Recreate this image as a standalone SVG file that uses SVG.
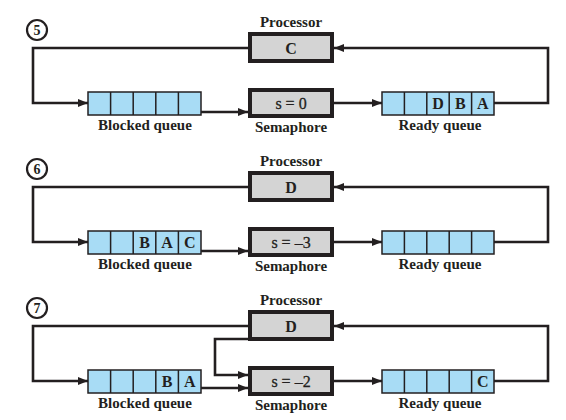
<svg xmlns="http://www.w3.org/2000/svg" width="566" height="420" viewBox="0 0 566 420">
<style>
.lbl{font-family:"Liberation Serif","Times New Roman",serif;font-weight:bold;font-size:15px;fill:#231f20;text-anchor:middle}
.val{font-family:"Liberation Serif","Times New Roman",serif;font-size:16px;fill:#231f20;text-anchor:middle;stroke:#231f20;stroke-width:0.3}
.cell{font-family:"Liberation Serif","Times New Roman",serif;font-weight:bold;font-size:16px;fill:#231f20;text-anchor:middle}
.num{font-family:"Liberation Serif","Times New Roman",serif;font-weight:bold;font-size:14px;fill:#231f20;text-anchor:middle}
.box{fill:#d4d4d4;stroke:#231f20;stroke-width:4}
.q{fill:#a8dcf5;stroke:#231f20;stroke-width:1.5}
.qd{stroke:#231f20;stroke-width:1.5}
.ring{fill:#fff;stroke:#231f20;stroke-width:2.2}
.ln{fill:none;stroke:#231f20;stroke-width:2.6}
</style>
<defs>
<marker id="ah" markerUnits="userSpaceOnUse" markerWidth="10" markerHeight="8" refX="10" refY="4" orient="auto">
<path d="M0,0 L10,4 L0,8 z" fill="#231f20"/>
</marker>
<g id="bq">
<rect class="q" x="88" y="92" width="113" height="23"/>
<path class="qd" d="M110.6 92V115M133.2 92V115M155.8 92V115M178.4 92V115"/>
</g>
<g id="rq">
<rect class="q" x="382" y="92" width="112" height="23"/>
<path class="qd" d="M404.4 92V115M426.8 92V115M449.2 92V115M471.6 92V115"/>
</g>
</defs>

<!-- Panel 5 -->
<g id="panel5">
<g id="step5"><circle class="ring" cx="37" cy="30" r="10"/><text class="num" x="37" y="35">5</text></g>
<g id="proc5"><text class="lbl" x="291" y="27">Processor</text><rect class="box" x="250" y="34" width="82" height="27"/><text class="cell" x="291" y="53.5">C</text></g>
<g id="sem5"><rect class="box" x="250" y="90" width="82" height="26"/><text class="val" x="291" y="108.5">s = 0</text><text class="lbl" x="291" y="132">Semaphore</text></g>
<g id="blocked5"><use href="#bq"/><text class="lbl" x="145" y="130">Blocked queue</text></g>
<g id="ready5"><use href="#rq"/><text class="cell" x="438" y="109">D</text><text class="cell" x="460.4" y="109">B</text><text class="cell" x="482.8" y="109">A</text><text class="lbl" x="440" y="130">Ready queue</text></g>
<g id="conn5">
<path class="ln" d="M248 48H33V103H88" marker-end="url(#ah)"/>
<path class="ln" d="M201 112H248" marker-end="url(#ah)"/>
<path class="ln" d="M334 103H382" marker-end="url(#ah)"/>
<path class="ln" d="M494 103H548V48H334" marker-end="url(#ah)"/>
</g>
</g>

<!-- Panel 6 -->
<g id="panel6" transform="translate(0,139)">
<g id="step6"><circle class="ring" cx="37" cy="30" r="10"/><text class="num" x="37" y="35">6</text></g>
<g id="proc6"><text class="lbl" x="291" y="27">Processor</text><rect class="box" x="250" y="34" width="82" height="27"/><text class="cell" x="291" y="53.5">D</text></g>
<g id="sem6"><rect class="box" x="250" y="90" width="82" height="26"/><text class="val" x="291" y="108.5">s = –3</text><text class="lbl" x="291" y="132">Semaphore</text></g>
<g id="blocked6"><use href="#bq"/><text class="cell" x="144.5" y="109">B</text><text class="cell" x="167.1" y="109">A</text><text class="cell" x="189.7" y="109">C</text><text class="lbl" x="145" y="130">Blocked queue</text></g>
<g id="ready6"><use href="#rq"/><text class="lbl" x="440" y="130">Ready queue</text></g>
<g id="conn6">
<path class="ln" d="M248 48H33V103H88" marker-end="url(#ah)"/>
<path class="ln" d="M201 112H248" marker-end="url(#ah)"/>
<path class="ln" d="M334 103H382" marker-end="url(#ah)"/>
<path class="ln" d="M494 103H548V48H334" marker-end="url(#ah)"/>
</g>
</g>

<!-- Panel 7 -->
<g id="panel7" transform="translate(0,278)">
<g id="step7"><circle class="ring" cx="37" cy="30" r="10"/><text class="num" x="37" y="35">7</text></g>
<g id="proc7"><text class="lbl" x="291" y="27">Processor</text><rect class="box" x="250" y="34" width="82" height="27"/><text class="cell" x="291" y="53.5">D</text></g>
<g id="sem7"><rect class="box" x="250" y="90" width="82" height="26"/><text class="val" x="291" y="108.5">s = –2</text><text class="lbl" x="291" y="132">Semaphore</text></g>
<g id="blocked7"><use href="#bq"/><text class="cell" x="167.1" y="109">B</text><text class="cell" x="189.7" y="109">A</text><text class="lbl" x="145" y="130">Blocked queue</text></g>
<g id="ready7"><use href="#rq"/><text class="cell" x="482.8" y="109">C</text><text class="lbl" x="440" y="130">Ready queue</text></g>
<g id="conn7">
<path class="ln" d="M248 48H33V103H88" marker-end="url(#ah)"/>
<path class="ln" d="M201 110H248" marker-end="url(#ah)"/>
<path class="ln" d="M248 61H215V97H248" marker-end="url(#ah)"/>
<path class="ln" d="M334 103H382" marker-end="url(#ah)"/>
<path class="ln" d="M494 103H548V48H334" marker-end="url(#ah)"/>
</g>
</g>
</svg>
